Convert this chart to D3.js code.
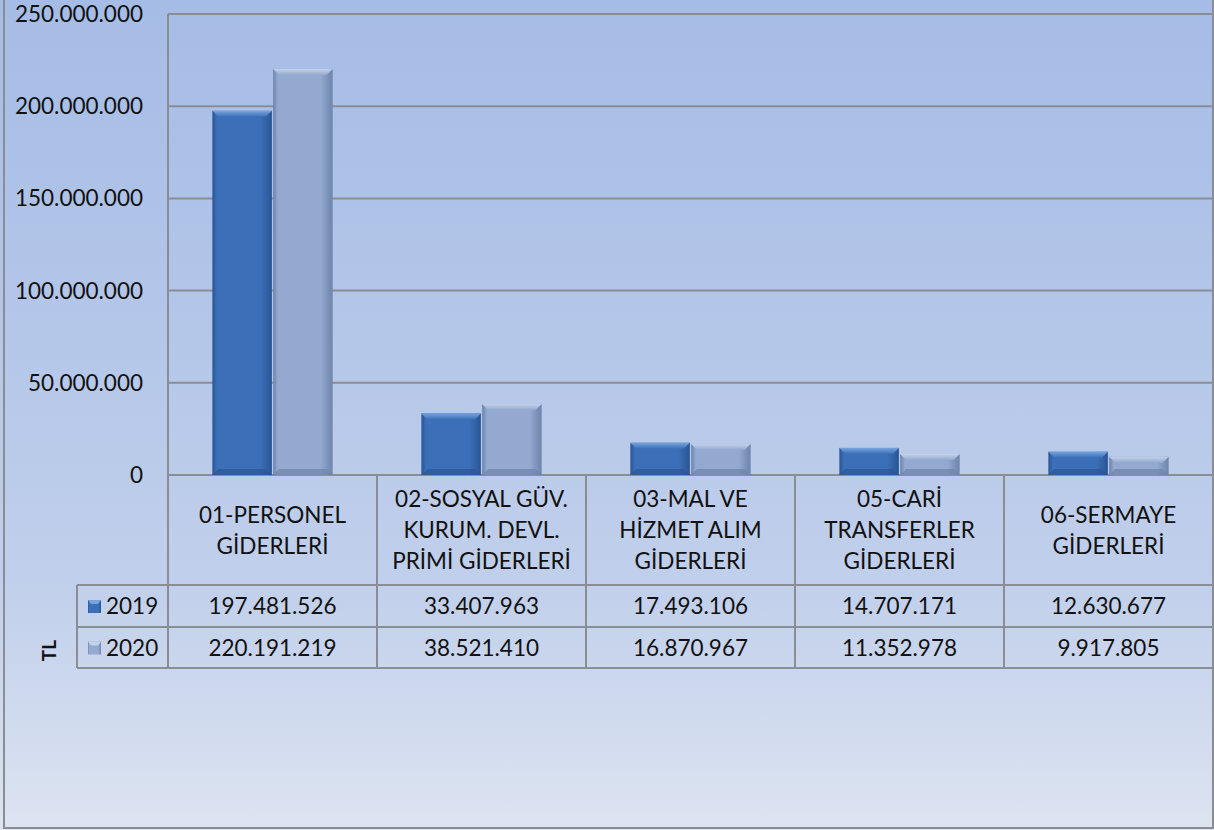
<!DOCTYPE html>
<html>
<head>
<meta charset="utf-8">
<script src="https://cdn.jsdelivr.net/npm/d3@7"></script>
<style>
	html, body { margin: 0; padding: 0; background: #fff; }
	svg { display: block; font-family: Lato, "Open Sans", sans-serif; }
</style>
</head>
<body>
<svg id="chart" width="1214" height="830"></svg>
<script>
const categories = [
	["01-PERSONEL", "GİDERLERİ"],
	["02-SOSYAL GÜV.", "KURUM. DEVL.", "PRİMİ GİDERLERİ"],
	["03-MAL VE", "HİZMET ALIM", "GİDERLERİ"],
	["05-CARİ", "TRANSFERLER", "GİDERLERİ"],
	["06-SERMAYE", "GİDERLERİ"],
]
const years = ["2019", "2020"]
const values2019 = [197481526, 33407963, 17493106, 14707171, 12630677]
const values2020 = [220191219, 38521410, 16870967, 11352978, 9917805]
const yTicks = [0, 50000000, 100000000, 150000000, 200000000, 250000000]
const axisTitle = "TL"

const series = [values2019, values2020]
const seriesLight = ["#78a4de", "#c4d2ea"]
const seriesMid = ["#3b70b8", "#93a9cf"]
const seriesDark = ["#2a5595", "#6d84ab"]

const svg = d3.select("#chart")
const W = 1214, H = 830
const plot = { left: 168, right: 1213, top: 14, bottom: 475 }
const table = { legendLeft: 77, headerBottom: 585, row1: 627, row2: 668 }
const fontSize = 22.5

const fmt = v => d3.format(",")(v).replace(/,/g, ".")

// Background gradient
const defs = svg.append("defs")
const bg = defs.append("linearGradient").attr("id", "bg")
	.attr("x1", 0).attr("y1", 0).attr("x2", 0).attr("y2", 1)
bg.append("stop").attr("offset", "0%").attr("stop-color", "#a5bce6")
bg.append("stop").attr("offset", "70%").attr("stop-color", "#c0cfeb")
bg.append("stop").attr("offset", "100%").attr("stop-color", "#dde4f1")

series.forEach((_, i) => {
	const g = defs.append("linearGradient").attr("id", `bar${i}`)
		.attr("x1", 0).attr("y1", 0).attr("x2", 1).attr("y2", 0)
	g.append("stop").attr("offset", "0%").attr("stop-color", seriesDark[i])
	g.append("stop").attr("offset", "8%").attr("stop-color", seriesMid[i])
	g.append("stop").attr("offset", "80%").attr("stop-color", seriesMid[i])
	g.append("stop").attr("offset", "100%").attr("stop-color", seriesDark[i])
	const top = defs.append("linearGradient").attr("id", `top${i}`)
		.attr("x1", 0).attr("y1", 0).attr("x2", 0).attr("y2", 1)
	top.append("stop").attr("offset", "0%").attr("stop-color", seriesLight[i])
	top.append("stop").attr("offset", "100%").attr("stop-color", seriesMid[i])
})

svg.append("rect")
	.attr("x", 0).attr("y", 0).attr("width", W).attr("height", H)
	.attr("fill", "url(#bg)")

// Scales
const x = d3.scaleBand()
	.domain(d3.range(categories.length))
	.range([plot.left, plot.right])
const xInner = d3.scaleBand()
	.domain(d3.range(years.length))
	.range([0, x.bandwidth()])
	.paddingOuter(0.73)
	.paddingInner(0.02)
const y = d3.scaleLinear()
	.domain([0, 250000000])
	.range([plot.bottom, plot.top])

const lineCol = "#8a8d93"

// Gridlines
svg.append("g").selectAll("line")
	.data(yTicks)
	.join("line")
	.attr("x1", plot.left).attr("x2", plot.right)
	.attr("y1", d => y(d)).attr("y2", d => y(d))
	.attr("stroke", lineCol).attr("stroke-width", 2)

// Y axis labels
svg.append("g").selectAll("text")
	.data(yTicks)
	.join("text")
	.attr("x", 143)
	.attr("y", d => y(d) + 8)
	.attr("text-anchor", "end")
	.attr("font-size", fontSize)
	.attr("fill", "#111")
	.text(d => d === 0 ? "0" : fmt(d))

// Bars
const groups = svg.append("g").selectAll("g")
	.data(categories.map((c, i) => i))
	.join("g")
	.attr("transform", i => `translate(${x(i)},0)`)

groups.each(function(ci) {
	const g = d3.select(this)
	series.forEach((vals, si) => {
		const bx = xInner(si), bw = xInner.bandwidth()
		const by = y(vals[ci]), bh = y(0) - by
		const bev = Math.min(6, bh / 2)
		g.append("rect")
			.attr("x", bx).attr("y", by).attr("width", bw).attr("height", bh)
			.attr("fill", `url(#bar${si})`)
		g.append("path")
			.attr("d", `M${bx},${by}L${bx + bw},${by}L${bx + bw - bev},${by + bev}L${bx + bev},${by + bev}Z`)
			.attr("fill", `url(#top${si})`)
		g.append("path")
			.attr("d", `M${bx},${by + bh}L${bx + bw},${by + bh}L${bx + bw - bev},${by + bh - bev}L${bx + bev},${by + bh - bev}Z`)
			.attr("fill", seriesDark[si]).attr("opacity", 0.7)
	})
})

// Table lines
const tl = svg.append("g").attr("stroke", lineCol).attr("stroke-width", 2)
;[table.headerBottom, table.row1, table.row2].forEach(yy => {
	tl.append("line").attr("x1", table.legendLeft).attr("x2", plot.right)
		.attr("y1", yy).attr("y2", yy)
})
tl.append("line").attr("x1", table.legendLeft).attr("x2", table.legendLeft)
	.attr("y1", table.headerBottom).attr("y2", table.row2)
tl.append("line").attr("x1", plot.left).attr("x2", plot.left)
	.attr("y1", plot.top).attr("y2", table.row2)
d3.range(1, categories.length).forEach(i => {
	tl.append("line").attr("x1", x(i)).attr("x2", x(i))
		.attr("y1", plot.bottom).attr("y2", table.row2)
})

// Outer border
svg.append("path")
	.attr("d", `M4,0V${H - 2}H${W - 1}V0`)
	.attr("fill", "none").attr("stroke", lineCol).attr("stroke-width", 2)

// Category header labels
const headMid = (plot.bottom + table.headerBottom) / 2
groups.each(function(ci) {
	const lines = categories[ci]
	const lh = 31
	const t = d3.select(this).append("text")
		.attr("text-anchor", "middle")
		.attr("font-size", fontSize)
		.attr("fill", "#111")
	lines.forEach((ln, k) => {
		t.append("tspan")
			.attr("x", x.bandwidth() / 2)
			.attr("y", headMid + (k - (lines.length - 1) / 2) * lh + 8)
			.text(ln)
	})
})

// Data rows
const rowMid = [(table.headerBottom + table.row1) / 2, (table.row1 + table.row2) / 2]
series.forEach((vals, si) => {
	svg.append("g").selectAll("text")
		.data(vals)
		.join("text")
		.attr("x", (d, i) => x(i) + x.bandwidth() / 2)
		.attr("y", rowMid[si] + 8)
		.attr("text-anchor", "middle")
		.attr("font-size", fontSize)
		.attr("fill", "#111")
		.text(d => fmt(d))
	// legend key
	svg.append("rect")
		.attr("x", 88).attr("y", rowMid[si] - 6).attr("width", 13).attr("height", 13)
		.attr("fill", `url(#bar${si})`)
	svg.append("path")
		.attr("d", `M88,${rowMid[si] - 6}h13l-3,4h-7Z`)
		.attr("fill", seriesLight[si])
	svg.append("text")
		.attr("x", 106).attr("y", rowMid[si] + 8)
		.attr("font-size", fontSize).attr("fill", "#111")
		.text(years[si])
})

// Axis title
svg.append("text")
	.attr("transform", `translate(56,${rowMid[1] + 3}) rotate(-90)`)
	.attr("text-anchor", "middle")
	.attr("font-size", 19).attr("font-weight", "bold")
	.attr("fill", "#111")
	.text(axisTitle)
</script>
</body>
</html>
